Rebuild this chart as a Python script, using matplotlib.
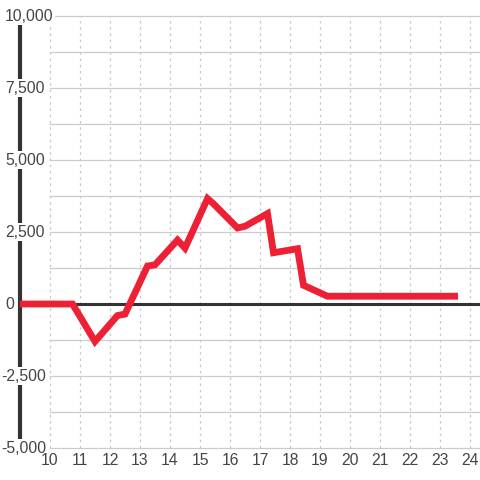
import matplotlib
matplotlib.use("Agg")
import matplotlib.pyplot as plt

# hours of the day and running value
hours = [9.0, 10.75, 11.5, 12.25, 12.5, 13.25, 13.5, 14.25, 14.5, 15.25, 15.45,
         16.25, 16.5, 17.25, 17.45, 18.25, 18.45, 19.25, 23.6]
values = [0, 0, -1300, -400, -350, 1320, 1360, 2220, 1940, 3660, 3480,
          2640, 2700, 3140, 1780, 1920, 650, 270, 270]

x_ticks = list(range(10, 25))
y_ticks = [-5000, -2500, 0, 2500, 5000, 7500, 10000]
y_grid = [-5000 + 1250 * i for i in range(13)]

plt.rcParams['font.family'] = ['Liberation Sans', 'DejaVu Sans']

fig = plt.figure(figsize=(4.8, 4.8), dpi=100)
ax = fig.add_axes([0, 0, 1, 1])
ax.set_xlim(8.333, 24.333)
ax.set_ylim(-6111, 10556)
ax.axis('off')

# grid
for y in y_grid:
    ax.plot([10, 24.333], [y, y], color='#cccccc', lw=0.9, zorder=1)
for x in x_ticks:
    ax.plot([x, x], [-5000, 10000], color='#c8c8c8', lw=0.9,
            linestyle=(0, (2, 3)), zorder=1)

# axis lines
ax.plot([9.0, 9.0], [-5000, 10000], color='#333333', lw=3, zorder=2,
        solid_capstyle='butt')
ax.plot([9.0, 24.333], [0, 0], color='#333333', lw=2.2, zorder=2,
        solid_capstyle='butt')

# series
ax.plot(hours, values, color='#ee2036', lw=4.9, zorder=3,
        solid_joinstyle='miter', solid_capstyle='butt')

# y labels (minus sign hangs to the left)
for y in y_ticks:
    x0 = 8.37 if y < 0 else 8.5
    ax.text(x0, y, f"{y:,}", ha='left', va='center', fontsize=11.3,
            color='#444444', zorder=4,
            bbox=dict(facecolor='white', edgecolor='none', pad=1.0))

# x labels
for x in x_ticks:
    ax.text(x, -5450, str(x), ha='center', va='center', fontsize=11.3,
            color='#444444', zorder=4)

fig.savefig("out.png", dpi=100, facecolor='white')
